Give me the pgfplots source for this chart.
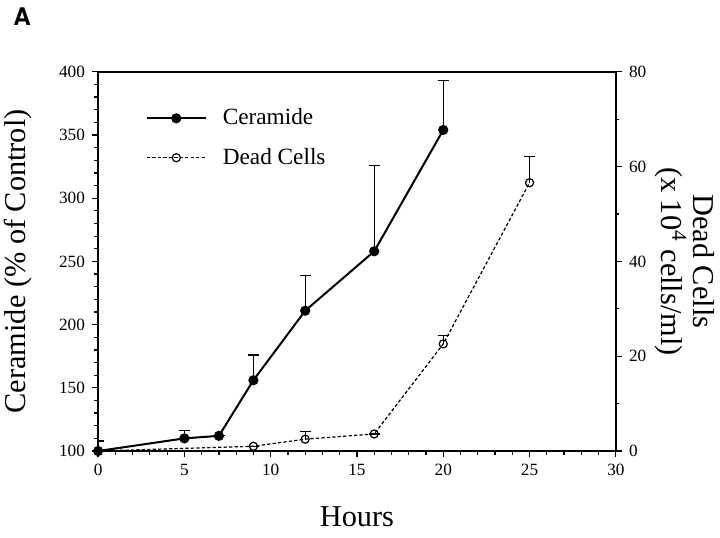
\documentclass[border=0pt]{standalone}
\usepackage{fontspec}
\setmainfont{Liberation Serif}
\newfontfamily\heros{TeX Gyre Heros}
\usepackage{pgfplots}
\pgfplotsset{compat=1.18}

\pgfplotstableread{
x   y    e
0   100  8
5   110  6
7   112  0
9   156  20
12  211  28
16  258  68
20  354  39
}\ceramide

\pgfplotstableread{
x   y     e
0   0     0
9   1.0   0
12  2.5   1.6
16  3.6   0
20  22.6  1.7
25  56.6  5.6
}\deadcells

\pgfplotsset{
  base/.style={
    width=256pt, height=187.5pt, scale only axis,
    xmin=0, xmax=30,
    tick align=outside,
    major tick length=3pt, minor tick length=1.8pt,
    tick style={black, line width=0.6pt},
    axis line style={line width=0.8pt},
    /pgf/number format/assume math mode=true,
    ticklabel style={font=\fontsize{8.5}{10}\selectfont},
    label style={font=\fontsize{15}{15.5}\selectfont},
  },
  cer/.style={black, line width=1pt, mark=*, mark size=2pt, mark options={solid}},
  dead/.style={black, line width=0.6pt, dash pattern=on 1.6pt off 1.1pt,
    mark=o, mark size=2pt, mark options={solid, fill=white}},
  ebar/.style={error bars/.cd, y dir=plus, y explicit,
    error bar style={line width=0.6pt, solid},
    error mark options={rotate=90, mark size=2.8pt, line width=0.6pt, solid}},
}

\begin{document}
\begin{tikzpicture}
\begin{axis}[base,
  ymin=100, ymax=400,
  ytick={100,150,...,400}, minor y tick num=4,
  xtick={0,5,...,30}, minor x tick num=4,
  xtick pos=lower, ytick pos=left,
  xlabel={Hours},
  ylabel={Ceramide (\% of Control)},
  xlabel style={at={(axis description cs:0.5,-0.172)}, anchor=center},
  ylabel style={at={(axis description cs:-0.155,0.5)}, anchor=center},
]
\addplot[cer, ebar] table[x=x, y=y, y error=e] {\ceramide};
\end{axis}

\begin{axis}[base,
  ymin=0, ymax=80,
  ytick={0,20,...,80}, minor y tick num=1,
  axis x line=none, axis y line*=right,
  ylabel={Dead Cells\\(x 10\textsuperscript{4} cells/ml)},
  ylabel style={at={(axis description cs:1.133,0.5)}, anchor=center,
    rotate=180, align=center},
  legend cell align=left,
  legend style={draw=none, fill=none, at={(0.08,0.925)}, anchor=north west,
    font=\fontsize{11.5}{13}\selectfont, row sep=6pt,
    /tikz/every odd column/.append style={column sep=6pt}},
  legend image code/.code={
    \draw[mark repeat=2, mark phase=2, #1]
      plot coordinates {(0pt,0pt) (14.5pt,0pt) (29pt,0pt)};},
]
\addlegendimage{cer}
\addlegendentry{Ceramide}
\addplot[dead, ebar] table[x=x, y=y, y error=e] {\deadcells};
\addlegendentry{Dead Cells}
\end{axis}

\node[font=\heros\bfseries\fontsize{12}{14}\selectfont] at (-37.5pt,215pt) {A};

\pgfresetboundingbox
\useasboundingbox (-48.5pt,-43pt) rectangle (307.5pt,223pt);
\end{tikzpicture}
\end{document}
